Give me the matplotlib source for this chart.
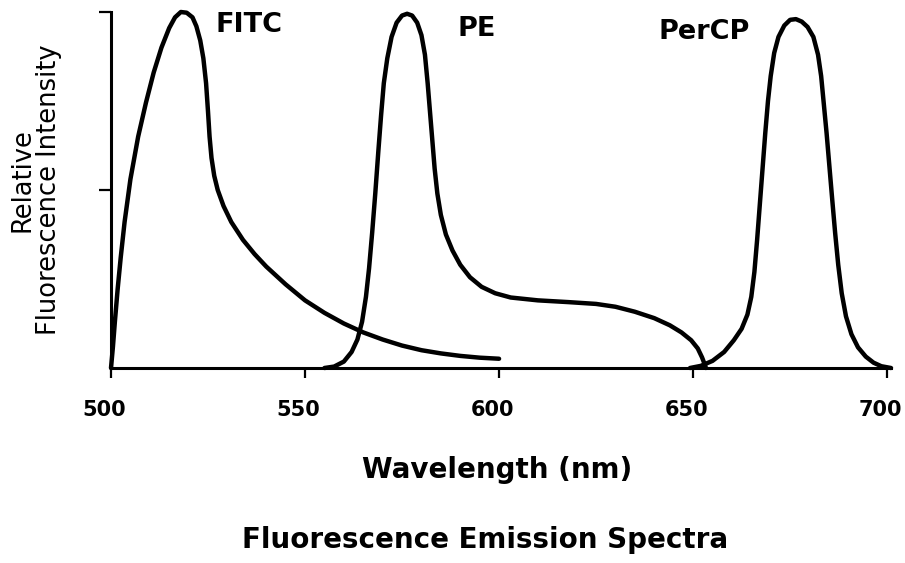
import matplotlib
matplotlib.use("Agg")
import matplotlib.pyplot as plt
import matplotlib.transforms as mtransforms

# ---- data ----
fitc_wl = [500.0, 500.5, 501.0, 501.7, 502.5, 503.5, 505.0, 507.0, 509.0, 511.0,
           513.0, 515.0, 516.5, 518.0, 519.5, 521.0, 522.0, 523.0, 523.8, 524.5,
           525.0, 525.4, 525.9, 526.6, 527.5, 529.0, 531.0, 534.0, 537.0, 540.0,
           545.0, 550.0, 555.0, 560.0, 565.0, 570.0, 575.0, 580.0, 585.0, 590.0,
           595.0, 600.0]
fitc_val = [0.0, 0.06, 0.13, 0.22, 0.31, 0.41, 0.53, 0.65, 0.745, 0.83,
            0.90, 0.955, 0.985, 1.0, 0.998, 0.985, 0.96, 0.92, 0.87, 0.80,
            0.72, 0.65, 0.59, 0.54, 0.50, 0.455, 0.41, 0.36, 0.32, 0.285,
            0.235, 0.19, 0.155, 0.125, 0.10, 0.08, 0.063, 0.05, 0.041, 0.034,
            0.029, 0.026]

pe_wl = [555.0, 557.5, 560.0, 562.0, 563.5, 564.7, 565.7, 566.5, 567.3, 568.1,
         568.9, 569.6, 570.3, 571.2, 572.3, 573.6, 575.0, 576.3, 577.6, 578.9,
         580.0, 580.9, 581.6, 582.2, 582.8, 583.4, 584.1, 585.0, 586.3, 588.0,
         590.0, 592.5, 595.5, 599.0, 603.0, 610.0, 618.0, 625.0, 630.0, 635.0,
         640.0, 644.0, 647.0, 649.5, 651.2, 652.3, 653.0, 653.3]
pe_val = [0.0, 0.004, 0.018, 0.045, 0.08, 0.13, 0.20, 0.28, 0.38, 0.49,
          0.61, 0.71, 0.80, 0.87, 0.93, 0.97, 0.99, 0.995, 0.99, 0.97,
          0.935, 0.88, 0.80, 0.72, 0.64, 0.56, 0.49, 0.43, 0.375, 0.33,
          0.29, 0.255, 0.228, 0.21, 0.198, 0.19, 0.185, 0.18, 0.172, 0.158,
          0.14, 0.12, 0.10, 0.078, 0.055, 0.03, 0.01, 0.0]

percp_wl = [649.2, 652.0, 655.0, 658.0, 660.5, 662.5, 664.0, 665.0, 665.8, 666.5,
            667.2, 667.9, 668.6, 669.3, 670.0, 670.9, 672.0, 673.5, 675.0, 676.5,
            678.0, 679.5, 681.0, 682.2, 683.0, 683.7, 684.4, 685.1, 685.8, 686.6,
            687.4, 688.3, 689.4, 690.8, 692.5, 694.5, 696.5, 698.5, 701.0]
percp_val = [0.0, 0.006, 0.02, 0.045, 0.078, 0.11, 0.15, 0.20, 0.27, 0.36,
             0.46, 0.56, 0.66, 0.75, 0.82, 0.885, 0.93, 0.962, 0.978, 0.98,
             0.973, 0.958, 0.93, 0.88, 0.82, 0.74, 0.66, 0.57, 0.48, 0.38,
             0.29, 0.21, 0.145, 0.095, 0.058, 0.032, 0.015, 0.005, 0.0]

dye_names = ["FITC", "PE", "PerCP"]
x_ticks = [500, 550, 600, 650, 700]
x_ticklabels = ["500", "550", "600", "650", "700"]
y_ticks = [0.5, 1.0]

# ---- figure ----
W, H = 905, 563
fig = plt.figure(figsize=(W / 100, H / 100), dpi=100)
ax = fig.add_axes([111 / W, (H - 368) / H, 780 / W, 356 / H])

lw = 3.2
for wl, val in [(fitc_wl, fitc_val), (pe_wl, pe_val), (percp_wl, percp_val)]:
    ax.plot(wl, val, color="black", lw=lw, solid_capstyle="round",
            solid_joinstyle="round", clip_on=False)

ax.set_xlim(500, 701)
ax.set_ylim(0, 1)

for s in ["top", "right"]:
    ax.spines[s].set_visible(False)
for s in ["left", "bottom"]:
    ax.spines[s].set_linewidth(2.2)
    ax.spines[s].set_color("black")

ax.set_xticks(x_ticks)
ax.set_xticklabels(x_ticklabels, fontsize=15, fontweight="bold")
ax.set_yticks(y_ticks)
ax.set_yticklabels([])
ax.tick_params(axis="x", direction="out", length=7, width=1.6, pad=16)
ax.tick_params(axis="y", direction="out", length=8.5, width=1.6)

shift = mtransforms.ScaledTranslation(-7 / 100, 0, fig.dpi_scale_trans)
for lab in ax.get_xticklabels():
    lab.set_transform(lab.get_transform() + shift)

# dye labels
ax.text(526.8, 0.963, dye_names[0], fontsize=19.5, fontweight="bold",
        ha="left", va="center")
ax.text(589.4, 0.952, dye_names[1], fontsize=19.5, fontweight="bold",
        ha="left", va="center")
ax.text(641.0, 0.944, dye_names[2], fontsize=19.5, fontweight="bold",
        ha="left", va="center")

# axis titles
fig.text(497 / W, 1 - 470 / H, "Wavelength (nm)", fontsize=20,
         fontweight="bold", ha="center", va="center")
fig.text(22 / W, 1 - 180 / H, "Relative", fontsize=18.5, rotation=90,
         ha="center", va="center")
fig.text(49 / W, 1 - 190 / H, "Fluorescence Intensity", fontsize=18.5,
         rotation=90, ha="center", va="center")

fig.text(485 / W, 1 - 540 / H, "Fluorescence Emission Spectra", fontsize=20,
         fontweight="bold", ha="center", va="center")

fig.savefig("out.png", dpi=100)
